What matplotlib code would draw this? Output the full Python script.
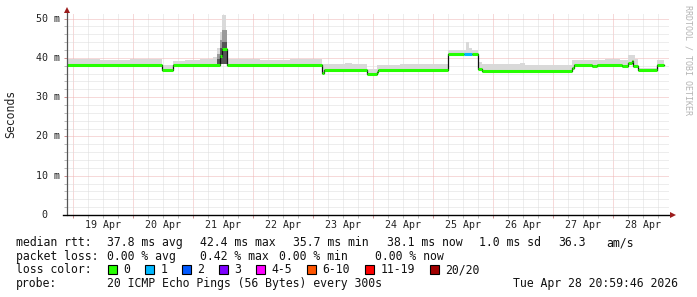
import matplotlib
matplotlib.use('Agg')
import matplotlib.pyplot as plt
import numpy as np
from matplotlib.patches import Rectangle

# ---------------- data (time in days since 19 Apr 00:00) ----------------
day_labels = ['19 Apr', '20 Apr', '21 Apr', '22 Apr', '23 Apr',
              '24 Apr', '25 Apr', '26 Apr', '27 Apr', '28 Apr']
y_tick_vals = [0, 10, 20, 30, 40, 50]
y_tick_labels = ['0', '10 m', '20 m', '30 m', '40 m', '50 m']

# median rtt (ms), step segments
median_start = [-0.100, 1.483, 1.667, 2.450, 2.490, 2.567, 4.150, 4.183, 4.900,
                5.067, 5.090, 6.250, 6.517, 6.650, 6.750, 6.817, 8.317, 8.350,
                8.650, 8.733, 9.150, 9.250, 9.317, 9.340, 9.417, 9.733]
median_ms = [38.1, 36.9, 38.2, 40.5, 42.2, 38.1, 36.2, 36.8, 35.8,
             36.4, 36.9, 41.0, 41.0, 41.0, 37.1, 36.7, 37.5, 38.2,
             37.9, 38.2, 38.0, 38.6, 39.3, 37.9, 36.8, 38.2]
median_loss = [0, 0, 0, 0, 0, 0, 0, 0, 0,
               0, 0, 0, 1, 0, 0, 0, 0, 0,
               0, 0, 0, 0, 0, 0, 0, 0]
data_end = 9.850

# smoke (upper edge of ping spread, ms)
smoke_start = [-0.100, 0.450, 0.950, 1.483, 1.667, 1.867, 2.117, 2.333, 2.400,
               2.450, 2.483, 2.550, 2.583, 3.117, 3.617, 4.150, 4.533, 4.650,
               4.900, 5.067, 5.450, 5.783, 6.250, 6.550, 6.600, 6.650, 6.750,
               6.817, 7.450, 7.533, 8.317, 8.867, 9.117, 9.250, 9.367, 9.417,
               9.733]
smoke_top = [39.6, 39.4, 39.6, 38.2, 39.2, 39.5, 39.7, 40.3, 42.5,
             46.5, 50.9, 41.5, 39.7, 39.5, 39.6, 38.3, 38.8, 38.3,
             37.1, 38.1, 38.4, 38.3, 42.0, 43.9, 42.5, 42.0, 38.9,
             38.3, 38.6, 38.2, 39.4, 39.8, 39.4, 40.7, 39.6, 37.3,
             39.4]

# darker smoke core during the 21 Apr spike
spike_start = [2.400, 2.450, 2.483]
spike_end = 2.567
spike_bottom = [38.4, 38.4, 38.4]
spike_mid_top = [41.0, 44.5, 47.0]
spike_core_top = [39.8, 42.5, 44.0]

loss_labels = ['0', '1', '2', '3', '4-5', '6-10', '11-19', '20/20']
loss_colors = ['#26ff00', '#00b8ff', '#0059ff', '#7e00ff',
               '#ff00ff', '#ff5500', '#ff0000', '#a10000']

legend_rtt = ['37.8 ms avg', '42.4 ms max', '35.7 ms min', '38.1 ms now',
              '1.0 ms sd', '36.3', 'am/s']
legend_loss = ['0.00 % avg', '0.42 % max', '0.00 % min', '0.00 % now']
probe_text = '20 ICMP Echo Pings (56 Bytes) every 300s'
date_text = 'Tue Apr 28 20:59:46 2026'

# ---------------- figure ----------------
W, H = 697, 297
fig = plt.figure(figsize=(W / 100, H / 100), dpi=100)
fig.patch.set_facecolor('white')
MONO = 'DejaVu Sans Mono'

def fx(px):
    return px / W

def fy(py):
    return 1 - py / H

L, R, B, T = 67, 669, 215, 13
ax = fig.add_axes([fx(L), fy(B), (R - L) / W, (B - T) / H])
ax.set_facecolor('white')
ax.set_xlim(-0.1, (R - 73) / 60.0)
ax.set_ylim(0, 51.4)
for s in ax.spines.values():
    s.set_visible(False)

# grid
px = 0.72
ax.set_xticks(np.arange(0, 10, 1))
ax.set_xticks(np.arange(0, 10, 0.25), minor=True)
ax.set_yticks(y_tick_vals)
ax.set_yticks(np.arange(0, 52, 2), minor=True)
ax.grid(which='minor', color='#dcdcdc', lw=px, ls=(0, (1, 1)))
ax.grid(which='major', color='#eeb4b4', lw=px, ls=(0, (1, 1)))
ax.set_axisbelow(True)
ax.tick_params(which='major', direction='out', length=2.5, width=px,
               color='#d09090', labelleft=False, labelbottom=False)
ax.tick_params(which='minor', direction='out', length=2.0, width=px,
               color='#bbbbbb', labelleft=False, labelbottom=False)

# smoke
t_all = sorted(set(smoke_start + median_start + [data_end]))
t_all = np.array(t_all)
med_idx = np.searchsorted(median_start, t_all, side='right') - 1
smk_idx = np.searchsorted(smoke_start, t_all, side='right') - 1
bot = np.array(median_ms)[med_idx]
top = np.array(smoke_top)[smk_idx]
ax.fill_between(t_all, bot, np.maximum(top, bot), step='post',
                color='#d9d9d9', lw=0)

sp_t = spike_start + [spike_end]
ax.fill_between(sp_t, spike_bottom + [spike_bottom[-1]],
                spike_mid_top + [spike_mid_top[-1]], step='post',
                color='#9a9a9a', lw=0)
ax.fill_between(sp_t, spike_bottom + [spike_bottom[-1]],
                spike_core_top + [spike_core_top[-1]], step='post',
                color='#555555', lw=0)

# median line: black connectors + loss-coloured segments
st_x = median_start + [data_end]
st_y = median_ms + [median_ms[-1]]
ax.step(st_x, st_y, where='post', color='#111111', lw=0.9)
ends = median_start[1:] + [data_end]
ax.hlines(median_ms, median_start, ends,
          colors=[loss_colors[l] for l in median_loss], lw=2.2)

# axes lines + arrows
ax.plot([0, 0], [0, 1.012], transform=ax.transAxes, color='#555555',
        lw=0.9, clip_on=False)
ax.plot([(62.7 - L) / (R - L), (671 - L) / (R - L)], [0, 0],
        transform=ax.transAxes, color='#000000', lw=1.0, clip_on=False)
ax.plot(0, 1.0125, marker='^', ms=4, color='#9c1c1c', mew=0,
        transform=ax.transAxes, clip_on=False)
ax.plot((673 - L) / (R - L), 0, marker='>', ms=4, color='#9c1c1c', mew=0,
        transform=ax.transAxes, clip_on=False)

# tick labels
for i, lab in enumerate(day_labels):
    ax.text(i + 0.5, -(228.3 - B) / (B - T), lab, transform=ax.get_xaxis_transform(),
            ha='center', va='baseline', fontsize=7.2, family=MONO, color='#222222')
for v, lab in zip(y_tick_vals, y_tick_labels):
    xr = (60 - L) / (R - L) if lab != '0' else (47 - L) / (R - L)
    ax.text(xr, v, lab, transform=ax.get_yaxis_transform(), ha='right',
            va='center', fontsize=7.2, family=MONO, color='#222222')

fig.text(fx(11), fy(114), 'Seconds', rotation=90, ha='center', va='center',
         fontsize=8.3, family=MONO, color='#222222')
fig.text(fx(688), fy(5), 'RRDTOOL / TOBI OETIKER', rotation=-90, ha='center',
         va='top', fontsize=6.0, family=MONO, color='#b4b4b4')

# legend
CW = 7.0
FS = 8.3
def ftxt(x, ybase, s, **kw):
    fig.text(fx(x), fy(ybase), s, ha='left', va='baseline', fontsize=FS,
             family=MONO, color='#111111', **kw)

y1, y2, y3, y4 = 246.2, 259.6, 273.4, 287.1
ftxt(16, y1, 'median rtt:')
for x, s in zip([107.3, 200, 293.3, 386.7, 479.3, 558, 606.7], legend_rtt):
    ftxt(x, y1, s)
ftxt(16, y2, 'packet loss:')
for x, s in zip([107.3, 200, 279.3, 375], legend_loss):
    ftxt(x, y2, s)
ftxt(16, y3, 'loss color:')
bx = 108.3
for lab, col in zip(loss_labels, loss_colors):
    fig.patches.append(Rectangle((fx(bx), fy(273.5)), 8.5 / W, 9 / H,
                                 transform=fig.transFigure, facecolor=col,
                                 edgecolor='#000000', lw=0.8))
    ftxt(bx + 15, y3, lab)
    bx = bx + 15 + len(lab) * CW + 15
ftxt(16, y4, 'probe:')
ftxt(107.3, y4, probe_text)
ftxt(513.3, y4, date_text)

fig.savefig('out.png', dpi=100, facecolor='white')
